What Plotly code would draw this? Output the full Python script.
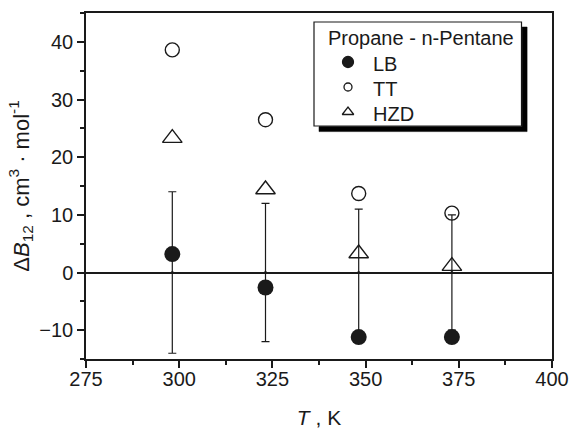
import plotly.graph_objects as go

# ---- data ----
temperature = [298.15, 323.15, 348.15, 373.15]
lb_values = [3.2, -2.6, -11.2, -11.2]
tt_values = [38.6, 26.5, 13.7, 10.3]
hzd_values = [23.3, 14.4, 3.3, 1.1]
error_center = [0, 0, 0, 0]
error_half = [14, 12, 11, 10]
series_names = ["LB", "TT", "HZD"]
legend_title = "Propane - n-Pentane"

FONT = "Liberation Sans, Arial, sans-serif"
INK = "#1a1a1a"

# plot area geometry in px
W, H = 571, 430
L, R, T, B = 86, 19, 13, 71
pw, ph = W - L - R, H - T - B

def pxx(x):
    return (x - L) / pw

def pxy(y):
    return (H - B - y) / ph

fig = go.Figure()

# uncertainty drawn as error bars around zero
fig.add_trace(go.Scatter(
    x=temperature, y=error_center, mode="markers",
    marker=dict(size=3, color=INK),
    error_y=dict(type="data", array=error_half, symmetric=True,
                 color=INK, thickness=1.2, width=4),
    showlegend=False, hoverinfo="skip"))

fig.add_trace(go.Scatter(
    x=temperature, y=lb_values, mode="markers", name=series_names[0],
    marker=dict(symbol="circle", size=16, color=INK, line=dict(width=0)),
    showlegend=False))
fig.add_trace(go.Scatter(
    x=temperature, y=tt_values, mode="markers", name=series_names[1],
    marker=dict(symbol="circle-open", size=14, color=INK, line=dict(width=1.4)),
    showlegend=False))
fig.add_trace(go.Scatter(
    x=temperature, y=hzd_values, mode="markers", name=series_names[2],
    marker=dict(symbol="triangle-up-open", size=17, color=INK, line=dict(width=1.4)),
    showlegend=False))

# ---- legend box (drawn by hand to match the boxed, shadowed original) ----
lx0, ly0, lx1, ly1 = 314, 22, 521.5, 126
shadow = 5
row0 = 62       # cap centre of first entry
row_gap = 25
key_x = lx0 + 34
text_x = lx0 + 57

# white box with border (beneath the traces)
fig.add_shape(type="rect", xref="paper", yref="paper",
              x0=pxx(lx0), x1=pxx(lx1), y0=pxy(ly1), y1=pxy(ly0),
              fillcolor="white", line=dict(width=1.2, color=INK), layer="below")

# drop shadow: L-shaped filled polygon on the page-pixel overlay axis
e = 0.6
shadow_x = [lx1 + e, lx1 + e + shadow, lx1 + e + shadow, lx0 + shadow, lx0 + shadow, lx1 + e, lx1 + e]
shadow_y = [ly0 + shadow, ly0 + shadow, ly1 + e + shadow, ly1 + e + shadow, ly1 + e, ly1 + e, ly0 + shadow]
fig.add_trace(go.Scatter(
    x=shadow_x, y=shadow_y, mode="lines", fill="toself",
    fillcolor="black", line=dict(width=0.5, color="black"),
    xaxis="x2", yaxis="y2", showlegend=False, hoverinfo="skip"))

fig.add_annotation(text=legend_title, xref="paper", yref="paper",
                   x=pxx(lx0 + 12), y=pxy(row0 - row_gap + 1.5),
                   xanchor="left", yanchor="middle", showarrow=False,
                   font=dict(size=20, color=INK, family=FONT))

key_symbols = ["circle", "circle-open", "triangle-up-open"]
key_sizes = [11, 8, 10]
key_y = [row0 + i * row_gap for i in range(len(series_names))]
for i, name in enumerate(series_names):
    fig.add_annotation(text=name, xref="paper", yref="paper",
                       x=pxx(text_x), y=pxy(key_y[i] + 1.5),
                       xanchor="left", yanchor="middle", showarrow=False,
                       font=dict(size=20, color=INK, family=FONT))

# legend keys on the hidden page-pixel overlay axis
fig.add_trace(go.Scatter(
    x=[key_x] * len(series_names), y=key_y, mode="markers",
    xaxis="x2", yaxis="y2",
    marker=dict(symbol=key_symbols, size=key_sizes, color=INK, opacity=1,
                line=dict(width=1.3, color=INK)),
    showlegend=False, hoverinfo="skip", cliponaxis=False))

tick_common = dict(ticks="outside", ticklen=7, tickwidth=1.5, tickcolor=INK)
minor_common = dict(ticks="outside", ticklen=4, tickwidth=1.5, tickcolor=INK)

fig.update_layout(
    width=W, height=H,
    margin=dict(l=L, r=R, t=T, b=B, autoexpand=False),
    paper_bgcolor="white", plot_bgcolor="rgba(0,0,0,0)",
    font=dict(family=FONT, size=20, color=INK),
    showlegend=False,
    xaxis=dict(
        range=[275, 400], tick0=275, dtick=25,
        showgrid=False, zeroline=False,
        showline=True, linecolor=INK, linewidth=1.5, mirror=True,
        ticklabelstandoff=-6,
        minor=dict(dtick=12.5, **minor_common),
        title=dict(text="<i>T</i> , K", font=dict(size=21), standoff=22),
        automargin=False, **tick_common,
    ),
    yaxis=dict(
        range=[-15, 45], tick0=0, dtick=10,
        showgrid=False,
        zeroline=True, zerolinecolor=INK, zerolinewidth=1.5,
        showline=True, linecolor=INK, linewidth=1.5, mirror=True,
        minor=dict(dtick=5, tick0=-15, **minor_common),
        title=dict(text="Δ<i>B</i><sub>12</sub> , cm<sup>3</sup> · mol<sup>-1</sup>",
                   font=dict(size=22), standoff=4),
        automargin=False, **tick_common,
    ),
    xaxis2=dict(overlaying="x", range=[L, W - R], visible=False, fixedrange=True),
    yaxis2=dict(overlaying="y", range=[H - B, T], visible=False, fixedrange=True),
)

fig.write_html("out.html")
